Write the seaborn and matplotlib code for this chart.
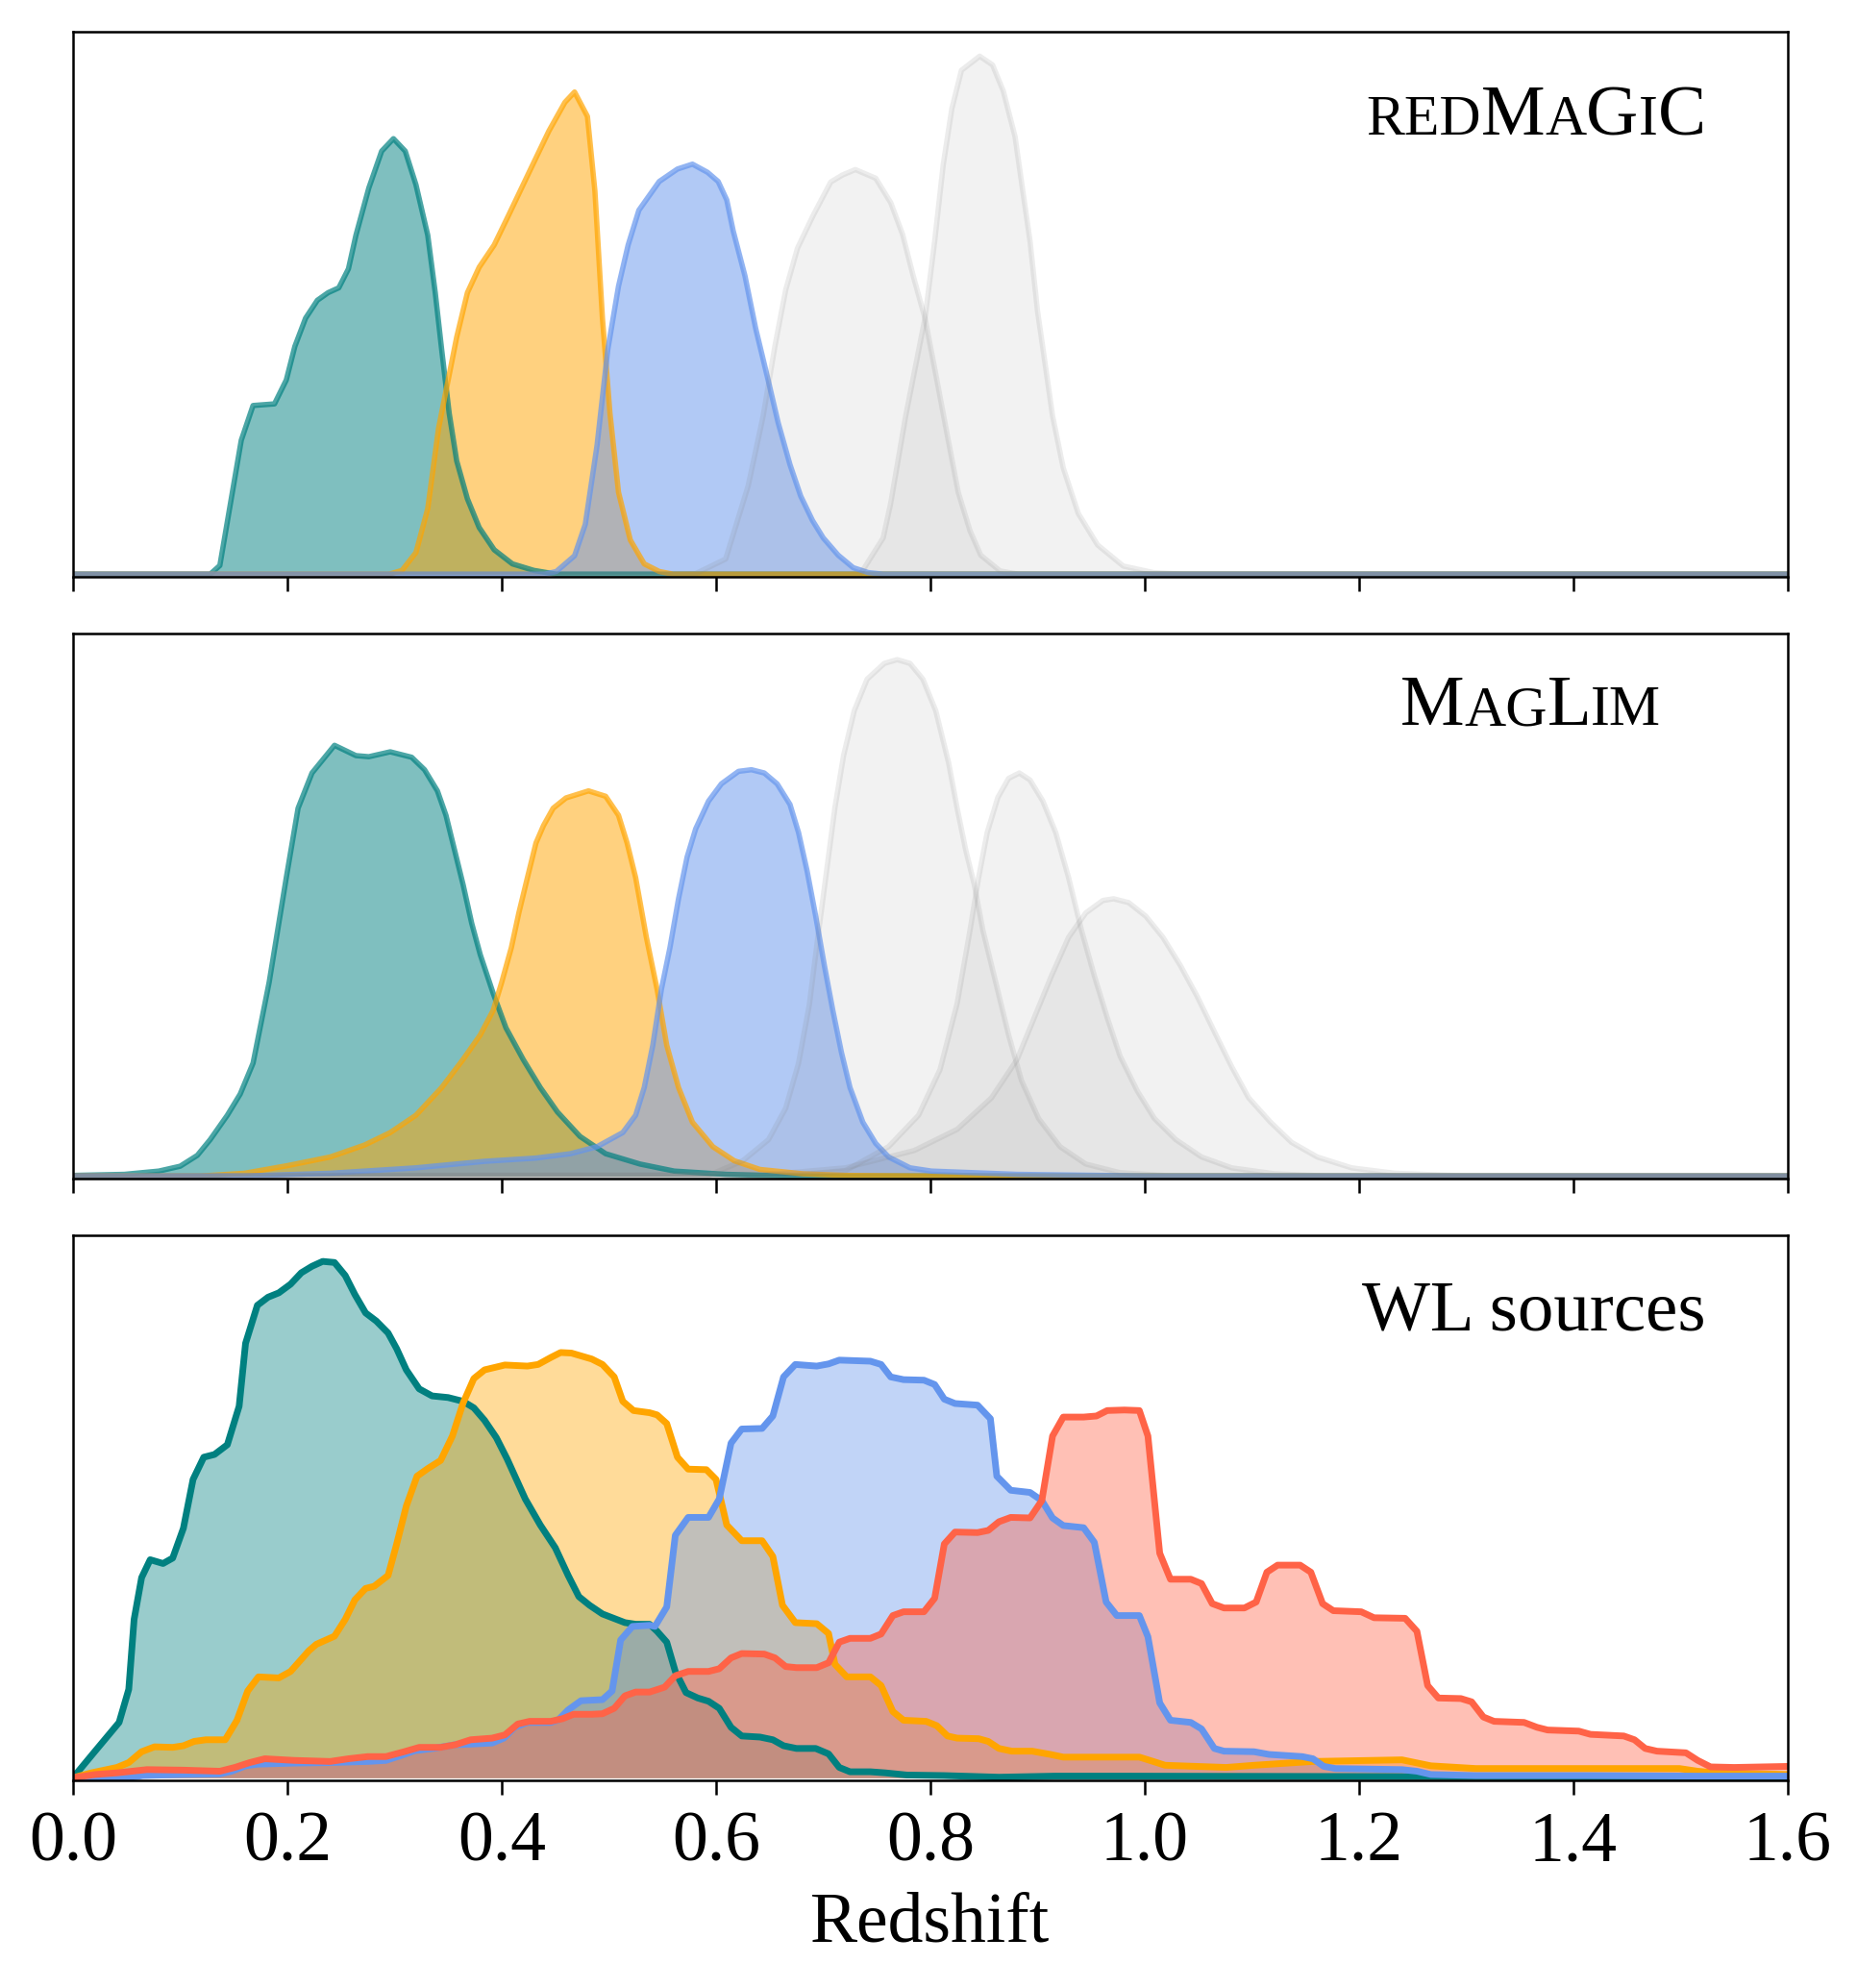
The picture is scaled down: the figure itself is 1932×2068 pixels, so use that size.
import matplotlib
matplotlib.use("Agg")
import matplotlib.pyplot as plt
import seaborn as sns

# ---- redMaGiC lens bins (z, n(z)), heights normalised to the panel ----
rm_z1 = [0.0, 0.128, 0.137, 0.157, 0.168, 0.188, 0.199, 0.207, 0.217, 0.228, 0.238, 0.248, 0.257, 0.264, 0.276,
         0.288, 0.299, 0.310, 0.320, 0.331, 0.338, 0.344, 0.351, 0.358, 0.368, 0.379, 0.393, 0.410, 0.430, 0.451, 1.6]
rm_n1 = [0, 0, 0.016, 0.247, 0.311, 0.314, 0.358, 0.420, 0.472, 0.505, 0.519, 0.528, 0.563, 0.625, 0.712,
         0.780, 0.803, 0.780, 0.718, 0.625, 0.519, 0.414, 0.297, 0.209, 0.139, 0.086, 0.045, 0.019, 0.007, 0, 0]
rm_z2 = [0.0, 0.295, 0.307, 0.320, 0.331, 0.341, 0.358, 0.368, 0.379, 0.393, 0.406, 0.427, 0.444, 0.459, 0.468,
         0.480, 0.487, 0.494, 0.501, 0.509, 0.520, 0.533, 0.547, 0.56, 1.6]
rm_n2 = [0, 0, 0.007, 0.040, 0.121, 0.268, 0.437, 0.519, 0.566, 0.607, 0.660, 0.747, 0.817, 0.870, 0.889,
         0.844, 0.706, 0.472, 0.297, 0.151, 0.063, 0.019, 0.005, 0, 0]
rm_z3 = [0.0, 0.440, 0.451, 0.468, 0.478, 0.489, 0.499, 0.509, 0.518, 0.528, 0.547, 0.564, 0.578, 0.592, 0.602,
         0.610, 0.616, 0.627, 0.637, 0.648, 0.658, 0.669, 0.679, 0.690, 0.700, 0.714, 0.728, 0.742, 0.756, 1.6]
rm_n3 = [0, 0, 0.005, 0.034, 0.092, 0.238, 0.414, 0.531, 0.607, 0.671, 0.724, 0.747, 0.756, 0.741, 0.724,
         0.690, 0.633, 0.550, 0.453, 0.363, 0.279, 0.202, 0.144, 0.099, 0.067, 0.035, 0.012, 0.003, 0, 0]
rm_z4 = [0.0, 0.570, 0.581, 0.609, 0.630, 0.644, 0.655, 0.665, 0.676, 0.690, 0.707, 0.718, 0.730, 0.749, 0.763,
         0.774, 0.784, 0.795, 0.805, 0.816, 0.826, 0.837, 0.847, 0.865, 0.882, 1.6]
rm_n4 = [0, 0, 0.001, 0.028, 0.163, 0.292, 0.421, 0.524, 0.601, 0.659, 0.723, 0.736, 0.746, 0.730, 0.685,
         0.627, 0.550, 0.472, 0.369, 0.254, 0.151, 0.080, 0.035, 0.006, 0, 0]
rm_z5 = [0.0, 0.725, 0.735, 0.756, 0.763, 0.777, 0.788, 0.795, 0.804, 0.812, 0.820, 0.829, 0.846, 0.858, 0.868,
         0.879, 0.886, 0.893, 0.900, 0.907, 0.914, 0.924, 0.938, 0.956, 0.980, 1.008, 1.036, 1.6]
rm_n5 = [0, 0, 0.001, 0.067, 0.131, 0.292, 0.402, 0.472, 0.614, 0.755, 0.858, 0.929, 0.955, 0.939, 0.891,
         0.807, 0.710, 0.614, 0.485, 0.389, 0.292, 0.196, 0.112, 0.054, 0.015, 0.003, 0, 0]

# ---- MagLim lens bins ----
ml_z1 = [0.0, 0.048, 0.080, 0.100, 0.116, 0.128, 0.144, 0.156, 0.168, 0.183, 0.199, 0.210, 0.223, 0.244, 0.264,
         0.276, 0.296, 0.316, 0.328, 0.340, 0.348, 0.356, 0.364, 0.372, 0.380, 0.392, 0.404, 0.420, 0.436, 0.452,
         0.473, 0.497, 0.529, 0.561, 0.609, 0.665, 1.6]
ml_n1 = [0.001, 0.003, 0.009, 0.018, 0.038, 0.067, 0.112, 0.151, 0.208, 0.357, 0.550, 0.678, 0.743, 0.794, 0.775,
         0.773, 0.782, 0.772, 0.749, 0.710, 0.665, 0.601, 0.537, 0.466, 0.408, 0.337, 0.273, 0.215, 0.163, 0.118,
         0.073, 0.041, 0.022, 0.009, 0.003, 0, 0]
ml_z2 = [0.0, 0.120, 0.160, 0.200, 0.240, 0.272, 0.296, 0.320, 0.344, 0.364, 0.380, 0.392, 0.400, 0.409, 0.416,
         0.424, 0.432, 0.439, 0.448, 0.460, 0.481, 0.497, 0.509, 0.517, 0.525, 0.535, 0.545, 0.554, 0.565, 0.578,
         0.597, 0.617, 0.641, 0.681, 0.721, 0.800, 1.6]
ml_n2 = [0, 0, 0.005, 0.019, 0.035, 0.057, 0.080, 0.112, 0.163, 0.215, 0.260, 0.305, 0.357, 0.421, 0.485,
         0.550, 0.614, 0.646, 0.678, 0.697, 0.710, 0.700, 0.665, 0.614, 0.550, 0.440, 0.344, 0.241, 0.163, 0.099,
         0.054, 0.028, 0.012, 0.004, 0.001, 0, 0]
ml_z3 = [0.0, 0.160, 0.240, 0.320, 0.384, 0.432, 0.464, 0.489, 0.513, 0.525, 0.533, 0.541, 0.549, 0.557, 0.565,
         0.573, 0.581, 0.593, 0.605, 0.621, 0.633, 0.645, 0.657, 0.669, 0.677, 0.685, 0.693, 0.701, 0.709, 0.717,
         0.725, 0.737, 0.749, 0.761, 0.781, 0.801, 0.881, 1.001, 1.6]
ml_n3 = [0, 0, 0.005, 0.015, 0.027, 0.033, 0.041, 0.054, 0.080, 0.112, 0.163, 0.241, 0.344, 0.421, 0.511,
         0.588, 0.640, 0.691, 0.723, 0.746, 0.749, 0.743, 0.723, 0.685, 0.633, 0.562, 0.479, 0.389, 0.305, 0.228,
         0.163, 0.099, 0.060, 0.035, 0.015, 0.009, 0.003, 0, 0]
ml_z4 = [0.0, 0.593, 0.625, 0.649, 0.665, 0.677, 0.687, 0.695, 0.703, 0.711, 0.719, 0.729, 0.741, 0.757, 0.769,
         0.781, 0.793, 0.805, 0.817, 0.825, 0.833, 0.841, 0.849, 0.861, 0.873, 0.885, 0.901, 0.921, 0.945, 0.977,
         1.025, 1.6]
ml_n4 = [0, 0.001, 0.028, 0.067, 0.125, 0.208, 0.315, 0.440, 0.560, 0.680, 0.775, 0.858, 0.916, 0.945, 0.952,
         0.945, 0.916, 0.858, 0.762, 0.678, 0.601, 0.537, 0.453, 0.357, 0.260, 0.176, 0.106, 0.054, 0.022, 0.006,
         0, 0]
ml_z5 = [0.0, 0.681, 0.721, 0.761, 0.789, 0.809, 0.825, 0.837, 0.845, 0.853, 0.863, 0.873, 0.883, 0.893, 0.905,
         0.917, 0.929, 0.941, 0.953, 0.965, 0.977, 0.993, 1.009, 1.029, 1.053, 1.081, 1.121, 1.169, 1.6]
ml_n5 = [0, 0.003, 0.010, 0.054, 0.112, 0.196, 0.318, 0.453, 0.550, 0.633, 0.698, 0.733, 0.743, 0.730, 0.691,
         0.633, 0.550, 0.453, 0.369, 0.292, 0.221, 0.157, 0.106, 0.067, 0.035, 0.015, 0.004, 0, 0]
ml_z6 = [0.0, 0.641, 0.721, 0.785, 0.825, 0.857, 0.881, 0.897, 0.913, 0.929, 0.945, 0.961, 0.971, 0.985, 1.001,
         1.017, 1.033, 1.049, 1.065, 1.081, 1.097, 1.117, 1.137, 1.161, 1.193, 1.233, 1.300, 1.6]
ml_n6 = [0, 0.001, 0.015, 0.047, 0.086, 0.144, 0.215, 0.292, 0.369, 0.440, 0.485, 0.508, 0.511, 0.504, 0.479,
         0.440, 0.389, 0.331, 0.266, 0.202, 0.144, 0.100, 0.062, 0.035, 0.015, 0.005, 0, 0]

# ---- WL source bins ----
wl_z1 = [0.0, 0.021, 0.043, 0.052, 0.057, 0.064, 0.072, 0.084, 0.093, 0.103, 0.112, 0.122, 0.132, 0.144, 0.155,
         0.161, 0.172, 0.182, 0.192, 0.203, 0.213, 0.223, 0.233, 0.244, 0.254, 0.263, 0.273, 0.283, 0.294, 0.302,
         0.311, 0.323, 0.335, 0.350, 0.364, 0.374, 0.384, 0.395, 0.405, 0.422, 0.436, 0.450, 0.462, 0.472, 0.482,
         0.494, 0.515, 0.525, 0.538, 0.545, 0.554, 0.562, 0.572, 0.583, 0.593, 0.603, 0.614, 0.624, 0.641, 0.653,
         0.663, 0.675, 0.693, 0.705, 0.715, 0.725, 0.744, 0.758, 0.778, 0.813, 0.864, 0.916, 0.984, 1.6]
wl_n1 = [0, 0.050, 0.102, 0.163, 0.292, 0.369, 0.402, 0.395, 0.405, 0.460, 0.550, 0.591, 0.596, 0.614, 0.685,
         0.801, 0.871, 0.886, 0.894, 0.910, 0.931, 0.943, 0.952, 0.950, 0.926, 0.891, 0.857, 0.842, 0.820, 0.791,
         0.752, 0.717, 0.704, 0.701, 0.694, 0.682, 0.659, 0.627, 0.588, 0.514, 0.466, 0.424, 0.373, 0.334, 0.318,
         0.302, 0.286, 0.283, 0.283, 0.270, 0.250, 0.196, 0.157, 0.147, 0.141, 0.128, 0.093, 0.077, 0.075, 0.070,
         0.059, 0.054, 0.054, 0.044, 0.019, 0.011, 0.011, 0.009, 0.005, 0.004, 0.001, 0.003, 0.003, 0.001]
wl_z2 = [0.0, 0.017, 0.041, 0.052, 0.064, 0.076, 0.093, 0.103, 0.113, 0.124, 0.142, 0.153, 0.163, 0.173, 0.192,
         0.203, 0.220, 0.227, 0.244, 0.254, 0.263, 0.273, 0.281, 0.294, 0.302, 0.311, 0.321, 0.331, 0.343, 0.354,
         0.364, 0.374, 0.384, 0.403, 0.424, 0.434, 0.446, 0.455, 0.465, 0.484, 0.494, 0.505, 0.513, 0.523, 0.538,
         0.545, 0.554, 0.564, 0.574, 0.591, 0.600, 0.610, 0.624, 0.643, 0.653, 0.662, 0.674, 0.694, 0.705, 0.711,
         0.722, 0.744, 0.754, 0.765, 0.775, 0.796, 0.806, 0.816, 0.825, 0.845, 0.854, 0.864, 0.876, 0.895, 0.912,
         0.924, 0.995, 1.008, 1.019, 1.076, 1.102, 1.157, 1.240, 1.267, 1.309, 1.412, 1.499, 1.516, 1.533, 1.6]
wl_n2 = [0, 0.009, 0.019, 0.028, 0.048, 0.057, 0.056, 0.059, 0.067, 0.070, 0.070, 0.106, 0.160, 0.186, 0.184,
         0.196, 0.234, 0.246, 0.261, 0.292, 0.328, 0.349, 0.353, 0.373, 0.431, 0.501, 0.556, 0.570, 0.585, 0.630,
         0.691, 0.736, 0.752, 0.761, 0.759, 0.762, 0.775, 0.784, 0.783, 0.772, 0.762, 0.739, 0.694, 0.677, 0.673,
         0.669, 0.653, 0.591, 0.569, 0.568, 0.550, 0.466, 0.437, 0.437, 0.408, 0.318, 0.286, 0.284, 0.266, 0.209,
         0.186, 0.186, 0.170, 0.122, 0.106, 0.104, 0.096, 0.077, 0.073, 0.072, 0.067, 0.054, 0.049, 0.049, 0.043,
         0.038, 0.038, 0.030, 0.023, 0.019, 0.023, 0.030, 0.033, 0.022, 0.017, 0.017, 0.017, 0.012, 0.009, 0.006]
wl_z3 = [0.0, 0.052, 0.065, 0.103, 0.137, 0.148, 0.161, 0.172, 0.206, 0.240, 0.275, 0.292, 0.306, 0.319, 0.336,
         0.357, 0.371, 0.391, 0.402, 0.412, 0.424, 0.446, 0.453, 0.462, 0.474, 0.494, 0.503, 0.511, 0.522, 0.538,
         0.543, 0.554, 0.562, 0.574, 0.593, 0.603, 0.614, 0.624, 0.643, 0.653, 0.663, 0.674, 0.694, 0.705, 0.715,
         0.744, 0.754, 0.763, 0.775, 0.794, 0.804, 0.813, 0.823, 0.844, 0.856, 0.862, 0.875, 0.893, 0.904, 0.914,
         0.924, 0.943, 0.953, 0.964, 0.974, 0.995, 1.003, 1.014, 1.024, 1.043, 1.053, 1.065, 1.074, 1.102, 1.116,
         1.147, 1.157, 1.167, 1.178, 1.240, 1.254, 1.267, 1.309, 1.412, 1.516, 1.6]
wl_n3 = [0, 0, 0.004, 0.006, 0.007, 0.012, 0.022, 0.025, 0.027, 0.028, 0.030, 0.032, 0.041, 0.050, 0.054,
         0.061, 0.062, 0.064, 0.073, 0.093, 0.102, 0.102, 0.107, 0.125, 0.142, 0.144, 0.160, 0.254, 0.279, 0.281,
         0.279, 0.315, 0.447, 0.480, 0.480, 0.514, 0.617, 0.643, 0.644, 0.667, 0.739, 0.762, 0.759, 0.763, 0.770,
         0.768, 0.762, 0.739, 0.734, 0.733, 0.725, 0.698, 0.690, 0.687, 0.662, 0.556, 0.530, 0.526, 0.511, 0.479,
         0.465, 0.461, 0.434, 0.324, 0.299, 0.299, 0.260, 0.138, 0.106, 0.102, 0.090, 0.054, 0.049, 0.048, 0.043,
         0.039, 0.035, 0.021, 0.017, 0.015, 0.012, 0.006, 0.004, 0.004, 0.003, 0.003]
wl_z4 = [0.0, 0.021, 0.041, 0.055, 0.069, 0.103, 0.137, 0.151, 0.165, 0.179, 0.206, 0.240, 0.257, 0.275, 0.292,
         0.309, 0.323, 0.343, 0.357, 0.371, 0.391, 0.403, 0.415, 0.426, 0.446, 0.457, 0.467, 0.484, 0.494, 0.505,
         0.515, 0.525, 0.538, 0.552, 0.562, 0.574, 0.593, 0.603, 0.614, 0.624, 0.645, 0.655, 0.665, 0.675, 0.694,
         0.705, 0.715, 0.725, 0.744, 0.754, 0.765, 0.775, 0.794, 0.804, 0.813, 0.823, 0.844, 0.854, 0.864, 0.875,
         0.893, 0.904, 0.914, 0.924, 0.943, 0.955, 0.965, 0.981, 0.995, 1.003, 1.014, 1.024, 1.043, 1.053, 1.063,
         1.074, 1.093, 1.104, 1.114, 1.124, 1.145, 1.155, 1.166, 1.176, 1.202, 1.214, 1.243, 1.254, 1.264, 1.274,
         1.295, 1.305, 1.316, 1.326, 1.354, 1.366, 1.376, 1.405, 1.416, 1.447, 1.457, 1.467, 1.478, 1.505, 1.516,
         1.528, 1.550, 1.602]
wl_n4 = [0, 0.006, 0.009, 0.012, 0.015, 0.014, 0.012, 0.019, 0.028, 0.035, 0.032, 0.030, 0.035, 0.039, 0.039,
         0.048, 0.056, 0.056, 0.061, 0.070, 0.073, 0.079, 0.099, 0.104, 0.104, 0.109, 0.117, 0.117, 0.118, 0.128,
         0.151, 0.158, 0.158, 0.167, 0.188, 0.196, 0.196, 0.201, 0.221, 0.229, 0.228, 0.221, 0.205, 0.203, 0.203,
         0.212, 0.250, 0.257, 0.257, 0.265, 0.299, 0.306, 0.306, 0.331, 0.431, 0.453, 0.452, 0.456, 0.472, 0.480,
         0.479, 0.511, 0.630, 0.665, 0.665, 0.667, 0.677, 0.678, 0.677, 0.630, 0.414, 0.366, 0.366, 0.358, 0.321,
         0.313, 0.313, 0.324, 0.379, 0.392, 0.392, 0.379, 0.321, 0.308, 0.306, 0.295, 0.294, 0.270, 0.170, 0.147,
         0.146, 0.140, 0.112, 0.104, 0.102, 0.093, 0.088, 0.086, 0.080, 0.077, 0.070, 0.054, 0.049, 0.046, 0.032,
         0.020, 0.019, 0.021]

bin_colors = ['teal', 'orange', 'cornflowerblue', 'tomato']
xticks = [0.0, 0.2, 0.4, 0.6, 0.8, 1.0, 1.2, 1.4, 1.6]

sns.set_theme(style="ticks")
plt.rcParams['font.family'] = ['Liberation Serif', 'DejaVu Serif']
plt.rcParams['axes.edgecolor'] = 'black'
plt.rcParams['axes.linewidth'] = 1.8
plt.rcParams['text.color'] = 'black'
plt.rcParams['axes.labelcolor'] = 'black'
plt.rcParams['xtick.color'] = 'black'
plt.rcParams['xtick.labelcolor'] = 'black'

fig, axes = plt.subplots(3, 1, figsize=(19.33, 20.68), dpi=100, sharex=True)
fig.subplots_adjust(left=0.0393, right=0.9622, top=0.984, bottom=0.1044, hspace=0.104)


def draw_panel(ax, coloured, grey, fill_a, line_a, lw):
    for (z, n), c in zip(coloured, bin_colors):
        ax.fill_between(z, n, 0, color=c, alpha=fill_a, linewidth=0)
    for (z, n), c in zip(coloured, bin_colors):
        sns.lineplot(x=z, y=n, ax=ax, color=c, linewidth=lw, alpha=line_a, estimator=None, sort=False)
    for z, n in grey:
        ax.fill_between(z, n, 0, color='gray', alpha=0.1, linewidth=0)
        sns.lineplot(x=z, y=n, ax=ax, color='gray', linewidth=lw, alpha=0.15, estimator=None, sort=False)


draw_panel(axes[0], [(rm_z1, rm_n1), (rm_z2, rm_n2), (rm_z3, rm_n3)],
           [(rm_z4, rm_n4), (rm_z5, rm_n5)], 0.5, 0.7, 4)
draw_panel(axes[1], [(ml_z1, ml_n1), (ml_z2, ml_n2), (ml_z3, ml_n3)],
           [(ml_z4, ml_n4), (ml_z5, ml_n5), (ml_z6, ml_n6)], 0.5, 0.7, 4)
draw_panel(axes[2], [(wl_z1, wl_n1), (wl_z2, wl_n2), (wl_z3, wl_n3), (wl_z4, wl_n4)],
           [], 0.4, 1.0, 5)

for ax in axes:
    ax.set_xlim(0, 1.6)
    ax.set_ylim(-0.005, 1.0)
    ax.set_yticks([])
    ax.set_ylabel('')
    ax.set_xticks(xticks)
    ax.tick_params(axis='x', direction='out', length=10.8, width=1.8, color='black', pad=12, labelsize=53,
                   labelcolor='black')
    for s in ax.spines.values():
        s.set_visible(True)
        s.set_linewidth(1.8)
        s.set_color('black')

axes[2].set_xticklabels(['%.1f' % t for t in xticks])
axes[2].set_xlabel('Redshift', fontsize=53, labelpad=12, color='black')

renderer = fig.canvas.get_renderer()


def panel_label(ax, parts, cx, y):
    # small caps built from pieces of two sizes, centred on cx
    axw = ax.get_window_extent(renderer).width
    pieces = [ax.text(0, y, s, transform=ax.transAxes, fontsize=fs, va='baseline', ha='left', color='black')
              for s, fs in parts]
    widths = [t.get_window_extent(renderer).width / axw for t in pieces]
    x = cx - sum(widths) / 2
    for t, w in zip(pieces, widths):
        t.set_x(x)
        x += w


big, small = 54, 43
panel_label(axes[0], [('RED', small), ('M', big), ('A', small), ('G', big), ('I', small), ('C', big)], 0.853, 0.811)
panel_label(axes[1], [('M', big), ('AG', small), ('L', big), ('IM', small)], 0.850, 0.832)
panel_label(axes[2], [('WL sources', big)], 0.852, 0.826)

fig.savefig('out.png', dpi=100)
